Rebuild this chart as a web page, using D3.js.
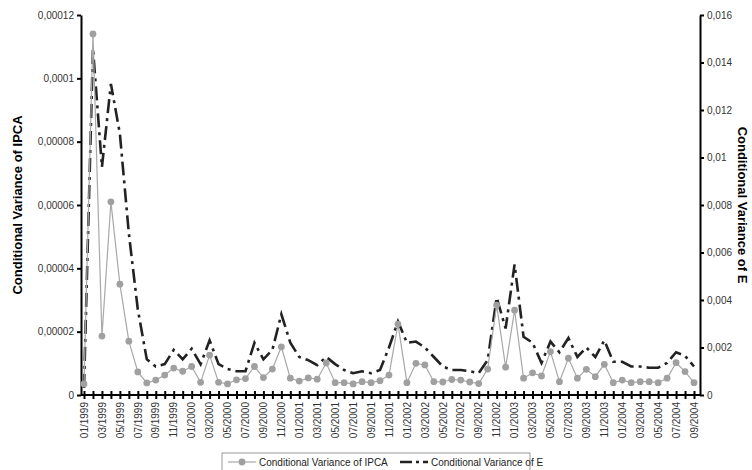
<!DOCTYPE html>
<html><head><meta charset="utf-8">
<script src="https://cdn.jsdelivr.net/npm/d3@7"></script>
<style>body{margin:0;background:#fff;font-family:"Liberation Sans",Arial,sans-serif}</style>
</head><body><svg id="chart" width="752" height="470"></svg>
<script>
// monthly 01/1999 .. 09/2004
const months = d3.range(69).map(i => {
  const m = i % 12 + 1, y = 1999 + Math.floor(i / 12);
  return (m < 10 ? "0" : "") + m + "/" + y;
});
// IPCA conditional variance (x1e-5)
const ipca = [0.35,11.4,1.86,6.1,3.5,1.7,0.73,0.38,0.47,0.63,0.85,0.75,0.9,0.4,1.26,0.4,0.35,0.48,0.52,0.9,0.55,0.82,1.52,0.53,
  0.44,0.54,0.5,1.01,0.39,0.39,0.35,0.42,0.39,0.45,0.63,2.24,0.39,1.0,0.95,0.42,0.41,0.49,0.47,0.41,0.36,0.82,2.84,0.88,2.68,
  0.53,0.7,0.6,1.37,0.42,1.16,0.53,0.81,0.58,0.97,0.39,0.47,0.39,0.42,0.42,0.39,0.53,1.02,0.74,0.39];
// E conditional variance (x1e-3)
const eVar = [0.3,14.6,9.6,13.1,11.0,6.8,3.6,1.5,1.2,1.3,1.9,1.5,1.95,1.3,2.3,1.3,1.1,1.0,1.0,2.2,1.5,1.9,3.4,2.2,
  1.6,1.47,1.26,1.6,1.3,1.05,0.92,1.0,0.92,1.05,2.0,3.1,2.2,2.25,2.0,1.6,1.2,1.05,1.05,1.0,0.92,1.47,4.1,2.8,5.5,
  2.45,2.2,1.35,2.25,1.8,2.4,1.6,2.0,1.6,2.3,1.4,1.4,1.2,1.2,1.15,1.15,1.35,1.8,1.65,1.2];
const leftTicks = [0,0.00002,0.00004,0.00006,0.00008,0.0001,0.00012];
const rightTicks = [0,0.002,0.004,0.006,0.008,0.01,0.012,0.014,0.016];

const svg = d3.select("#chart");
const L = 81, R = 700, T = 15, B = 395;
const x = d3.scalePoint().domain(months).range([84, 694]);
const yL = d3.scaleLinear().domain([0, 0.00012]).range([B, T]);
const yR = d3.scaleLinear().domain([0, 0.016]).range([B, T]);
const fmt = v => String(+v.toPrecision(6)).replace(".", ",");

const axL = svg.append("g").attr("transform", `translate(${L},0)`)
  .call(d3.axisLeft(yL).tickValues(leftTicks).tickFormat(fmt).tickSize(4).tickSizeOuter(0));
const axR = svg.append("g").attr("transform", `translate(${R},0)`)
  .call(d3.axisRight(yR).tickValues(rightTicks).tickFormat(fmt).tickSize(4).tickSizeOuter(0));
const axX = svg.append("g").attr("transform", `translate(0,${B})`)
  .call(d3.axisBottom(x).tickSize(8).tickSizeOuter(0).tickFormat((d, i) => i % 2 ? "" : d));
axX.select(".domain").attr("d", `M${L},0H${R}`);
axX.selectAll(".tick line").attr("y1", -4).attr("y2", 4);
axX.selectAll("text").attr("transform", "rotate(-90)").attr("x", -7).attr("y", 0)
  .attr("dy", "0.32em").attr("text-anchor", "end");
[axL, axR, axX].forEach(a => {
  a.selectAll(".domain, .tick line").attr("stroke", "#000").attr("stroke-width", 2);
  a.selectAll("text").attr("font-size", 10).attr("fill", "#333")
    .attr("font-family", '"Liberation Sans",Arial,sans-serif');
});

svg.append("path").datum(eVar)
  .attr("d", d3.line().x((d, i) => x(months[i])).y(d => yR(d / 1000)))
  .attr("fill", "none").attr("stroke", "#222").attr("stroke-width", 2.6)
  .attr("stroke-dasharray", "14,5,3,5");
svg.append("path").datum(ipca)
  .attr("d", d3.line().x((d, i) => x(months[i])).y(d => yL(d / 1e5)))
  .attr("fill", "none").attr("stroke", "#a8a8a8").attr("stroke-width", 1.2);
svg.selectAll(".pt").data(ipca).enter().append("circle")
  .attr("cx", (d, i) => x(months[i])).attr("cy", d => yL(d / 1e5))
  .attr("r", 3.4).attr("fill", "#a0a0a0");

svg.append("text").attr("transform", `translate(22,${(T + B) / 2}) rotate(-90)`)
  .attr("text-anchor", "middle").attr("font-weight", "bold").attr("font-size", 13)
  .text("Conditional Variance of IPCA");
svg.append("text").attr("transform", `translate(738,${(T + B) / 2}) rotate(90)`)
  .attr("text-anchor", "middle").attr("font-weight", "bold").attr("font-size", 13)
  .text("Conditional Variance of E");

// legend
const lg = svg.append("g");
lg.append("rect").attr("x", 222).attr("y", 453).attr("width", 308).attr("height", 18)
  .attr("fill", "#fff").attr("stroke", "#999");
lg.append("line").attr("x1", 228).attr("x2", 256).attr("y1", 462).attr("y2", 462)
  .attr("stroke", "#a8a8a8").attr("stroke-width", 1.2);
lg.append("circle").attr("cx", 242).attr("cy", 462).attr("r", 3.4).attr("fill", "#a0a0a0");
lg.append("text").attr("x", 259).attr("y", 466).attr("font-size", 10).attr("fill", "#222")
  .text("Conditional Variance of IPCA");
lg.append("line").attr("x1", 400).attr("x2", 428).attr("y1", 462).attr("y2", 462)
  .attr("stroke", "#222").attr("stroke-width", 2.6).attr("stroke-dasharray", "12,4,3,4");
lg.append("text").attr("x", 431).attr("y", 466).attr("font-size", 10).attr("fill", "#222")
  .text("Conditional Variance of E");
</script></body></html>
